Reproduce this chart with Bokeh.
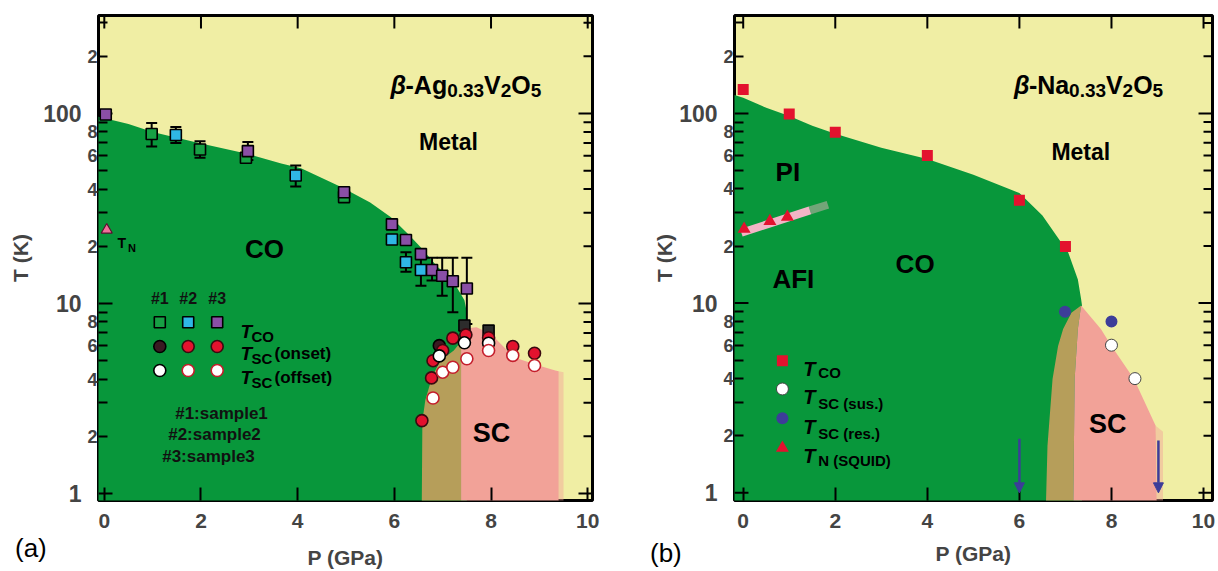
import math
from bokeh.plotting import figure
from bokeh.layouts import row, column
from bokeh.models import FixedTicker, LinearAxis, Arrow, NormalHead, Range1d, Div
from bokeh.core.properties import value
from bokeh.embed import file_html
from bokeh.resources import INLINE

FONT = "Liberation Sans"
YELLOW = "#F0EEA4"; GREEN = "#08973B"; OLIVE = "#B69E5A"; PINK = "#F2A298"
BAND = "#F3B5C6"; RED = "#E3122E"; DARK = "#3A1A22"; BLUE = "#3D3D99"
CYAN = "#2FB7E6"; PURPLE = "#8A4FA6"; SQGREEN = "#17A044"; REDLINE = "#C41E2C"

# ---------------- axis ticks ----------------
x_ticks = [0, 2, 4, 6, 8, 10]
y_big_ticks = [1, 10, 100]
y_big_labels = ["1", "10", "100"]
y_small_ticks = [2, 4, 6, 8, 20, 40, 60, 80, 200]
y_small_labels = ["2", "4", "6", "8", "2", "4", "6", "8", "2"]
y_minor_ticks = [3, 5, 7, 9, 30, 50, 70, 90, 300]

# ---------------- panel (a): beta-Ag0.33V2O5 ----------------
a_tco1_P = [0.98, 1.98, 2.93, 4.96]
a_tco1_T = [78.0, 64.6, 58.5, 36.3]
a_tco2_P = [1.48, 3.96, 5.95, 6.24, 6.55]
a_tco2_T = [77.0, 47.2, 21.7, 16.5, 15.0]
a_tco3_P = [0.03, 2.97, 4.96, 5.95, 6.24, 6.55, 6.78, 6.99, 7.21, 7.50]
a_tco3_T = [98.8, 63.4, 38.5, 26.1, 21.6, 18.2, 15.0, 14.0, 13.1, 12.0]
a_tcodark_P = [7.45, 7.95]
a_tcodark_T = [7.66, 7.2]
a_err_P = [0.98, 1.48, 1.98, 2.97, 3.96, 6.24, 6.55, 6.78, 6.99, 7.21, 7.50]
a_err_lo = [67.0, 70.0, 58.5, 57.0, 41.3, 14.7, 12.4, 13.2, 11.0, 9.0, 7.8]
a_err_hi = [89.0, 85.0, 71.5, 70.7, 53.3, 18.6, 17.2, 17.4, 17.4, 17.4, 17.4]
a_on1_P = [6.93]
a_on1_T = [6.0]
a_on23_P = [6.57, 6.77, 6.80, 7.00, 7.21, 7.48, 7.95, 8.45, 8.90]
a_on23_T = [2.42, 4.06, 5.0, 5.66, 6.57, 6.84, 6.6, 5.94, 5.47]
a_off1_P = [6.93, 7.45, 7.95]
a_off1_T = [5.3, 6.21, 6.18]
a_off23_P = [6.80, 7.00, 7.21, 7.50, 7.95, 8.45, 8.90]
a_off23_T = [3.18, 4.35, 4.62, 5.12, 5.66, 5.33, 4.72]
a_TN_P = [0.05]
a_TN_T = [24.4]
# phase boundaries (a)
a_co_P = [-1.0, -0.12, 0.5, 1.0, 2.0, 3.0, 3.66, 4.07, 4.9, 5.5, 5.93, 6.3, 6.55, 6.9, 7.17, 7.35, 7.45, 7.5, 7.5]
a_co_T = [96.0, 96.0, 88.0, 80.0, 69.5, 61.0, 54.5, 51.5, 41.0, 34.0, 28.4, 23.0, 19.7, 15.5, 13.7, 11.5, 10.4, 9.0, 7.2]
a_coex_P = [6.56, 6.58, 6.64, 6.78, 6.95, 7.23, 7.40, 7.51, 7.38]
a_coex_T = [0.5, 2.4, 3.1, 4.1, 5.0, 5.66, 6.4, 7.4, 6.3]
a_sc_P = [7.38, 7.51, 7.70, 8.00, 8.47, 9.00, 9.33, 9.40]
a_sc_T = [6.3, 7.4, 7.5, 6.9, 5.22, 4.7, 4.44, 4.4]

# ---------------- panel (b): beta-Na0.33V2O5 ----------------
b_tco_P = [0.0, 1.0, 2.0, 4.0, 6.0, 7.0]
b_tco_T = [133.6, 99.2, 79.5, 59.9, 34.8, 19.9]
b_tn_P = [0.02, 0.58, 0.96]
b_tn_T = [24.6, 27.0, 28.4]
b_sus_P = [8.0, 8.51]
b_sus_T = [6.0, 4.0]
b_res_P = [6.99, 8.0]
b_res_T = [9.0, 8.0]
b_arrow_P = [6.0, 9.02]
b_arrow_T0 = [1.93, 1.89]
b_band_P = [-0.04, 1.45, 1.84]
b_band_T = [23.5, 30.8, 33.0]
b_co_P = [-1.0, -0.19, 0.0, 0.5, 1.0, 1.5, 2.0, 3.0, 4.0, 5.0, 6.0, 6.5, 7.06, 7.27, 7.34, 7.36]
b_co_T = [125.0, 125.0, 121.0, 107.0, 97.0, 86.0, 78.0, 66.0, 57.5, 47.5, 38.0, 29.0, 18.5, 13.3, 10.5, 9.7]
b_coex_P = [6.55, 6.61, 6.72, 6.84, 6.95, 7.13, 7.34, 7.27, 7.20, 7.16]
b_coex_T = [0.5, 1.77, 3.98, 5.95, 7.3, 8.9, 9.7, 7.3, 3.98, 0.5]
b_sc_P = [7.16, 7.20, 7.27, 7.34, 7.77, 8.0, 8.49, 8.96, 9.0]
b_sc_T = [0.5, 3.98, 7.3, 9.7, 7.3, 5.95, 3.98, 2.26, 0.5]

BOTTOM = 0.5
HEIGHT = 571

GEOM_A = dict(px0=98.0, P0=-0.12, sx=48.34, py1=493.0, sy=190.0, fl=98, fr=592, ft=15, fb=500)
GEOM_B = dict(px0=733.0, P0=-0.189, sx=46.13, py1=494.3, sy=190.5, fl=733, fr=1212, ft=15, fb=502)

# approx. Liberation Sans Bold advance widths (em)
W = {'β': 0.6, '-': 0.333, 'A': 0.722, 'g': 0.611, 'N': 0.722, 'a': 0.556, '0': 0.556,
     '.': 0.278, '3': 0.556, 'V': 0.667, '2': 0.556, 'O': 0.778, '5': 0.556}


def mapper(g):
    def m(px, py):
        return g["P0"] + (px - g["px0"]) / g["sx"], 10 ** ((g["py1"] - py) / g["sy"])
    return m


def tick_style(ax, tin, mtin):
    ax.axis_line_color = None
    ax.major_tick_in = tin; ax.major_tick_out = 0
    ax.minor_tick_in = mtin; ax.minor_tick_out = 0
    ax.major_tick_line_width = 2; ax.minor_tick_line_width = 2
    ax.major_tick_line_color = "black"; ax.minor_tick_line_color = "black"


def frame_ticks(p, g):
    """inward ticks drawn on the left (decades), top and right edges of the frame"""
    xs, xe = p.x_range.start, p.x_range.end
    ys, ye = p.y_range.start, p.y_range.end
    kw = dict(line_width=2, line_color="black")
    n = len(y_big_ticks)
    # long decade ticks, left and right
    p.segment(x0=[xs] * n, y0=y_big_ticks, x1=[xs + 14.0 / g["sx"]] * n, y1=y_big_ticks, **kw)
    p.segment(x0=[xe] * n, y0=y_big_ticks, x1=[xe - 14.0 / g["sx"]] * n, y1=y_big_ticks, **kw)
    # short ticks on the right
    mins = y_small_ticks + y_minor_ticks
    p.segment(x0=[xe] * len(mins), y0=mins, x1=[xe - 9.0 / g["sx"]] * len(mins), y1=mins, **kw)
    # top ticks
    f = 10 ** (13.0 / g["sy"])
    p.segment(x0=x_ticks, y0=[ye] * len(x_ticks), x1=x_ticks, y1=[ye / f] * len(x_ticks), **kw)


def panel(width, g, min_left, min_right, xlab_standoff, ylab_standoff):
    m = mapper(g)
    x0, y0 = m(g["fl"], g["fb"])
    x1, y1 = m(g["fr"], g["ft"])
    p = figure(width=width, height=HEIGHT, x_range=Range1d(x0, x1), y_range=Range1d(y0, y1),
               y_axis_type="log", x_axis_location=None, y_axis_location=None,
               toolbar_location=None, output_backend="svg",
               min_border_left=min_left, min_border_right=min_right,
               min_border_top=g["ft"], min_border_bottom=HEIGHT - g["fb"])
    p.background_fill_color = YELLOW
    p.border_fill_color = None
    p.outline_line_color = "black"
    p.outline_line_width = 3
    p.grid.visible = False

    axb = LinearAxis(ticker=FixedTicker(ticks=x_ticks, minor_ticks=[]))
    tick_style(axb, 13, 0)
    axb.major_label_text_font = FONT
    axb.major_label_text_font_size = "21px"
    axb.major_label_text_font_style = "bold"
    axb.major_label_standoff = 13
    axb.axis_label = "P (GPa)"
    axb.axis_label_text_font = FONT
    axb.axis_label_text_font_size = "21px"
    axb.axis_label_text_font_style = "bold"
    axb.axis_label_standoff = xlab_standoff
    p.add_layout(axb, "below")

    axl = LinearAxis(ticker=FixedTicker(ticks=y_small_ticks, minor_ticks=y_minor_ticks),
                     major_label_overrides=dict(zip(y_small_ticks, y_small_labels)))
    tick_style(axl, 9, 9)
    axl.major_label_text_font = FONT
    axl.major_label_text_font_size = "18px"
    axl.major_label_text_font_style = "bold"
    axl.major_label_standoff = 1
    p.add_layout(axl, "left")

    axl2 = LinearAxis(ticker=FixedTicker(ticks=y_big_ticks, minor_ticks=[]),
                      major_label_overrides=dict(zip(y_big_ticks, y_big_labels)))
    axl2.axis_line_color = None
    axl2.major_tick_line_color = None
    axl2.minor_tick_line_color = None
    axl2.major_label_text_font = FONT
    axl2.major_label_text_font_size = "23px"
    axl2.major_label_text_font_style = "bold"
    axl2.major_label_standoff = -3
    axl2.axis_label = "T (K)"
    axl2.axis_label_text_font = FONT
    axl2.axis_label_text_font_size = "21px"
    axl2.axis_label_text_font_style = "bold"
    axl2.axis_label_standoff = ylab_standoff
    p.add_layout(axl2, "left")
    return p, m


def txt(p, m, px, py, s, size, style="bold", align="left", baseline="alphabetic", color="black"):
    x, y = m(px, py)
    p.text(x=[x], y=[y], text=[s], text_font=value(FONT), text_font_size=f"{size}px",
           text_font_style=style, text_align=align, text_baseline=baseline, text_color=color)


def seq(p, m, px, pieces):
    for s, size, style, base in pieces:
        txt(p, m, px, base, s, size, style=style)
        px += sum(W.get(c, 0.55) for c in s) * size


# ======================= panel (a) =======================
pa, ma = panel(650, GEOM_A, 98, 58, 15, 8)
pa.patch(x=a_co_P + [7.5, -1.0], y=a_co_T + [BOTTOM, BOTTOM], fill_color=GREEN, line_color=None)
pa.patch(x=a_coex_P + [7.38], y=a_coex_T + [BOTTOM], fill_color=OLIVE, line_color=None)
pa.patch(x=a_sc_P + [9.40, 7.38], y=a_sc_T + [BOTTOM, BOTTOM], fill_color=PINK, line_color=None)
pa.patch(x=[9.40, 9.50, 9.50, 9.40], y=[4.4, 4.35, BOTTOM, BOTTOM], fill_color=PINK,
         fill_alpha=0.45, line_color=None)
frame_ticks(pa, GEOM_A)

# error bars
pa.segment(x0=a_err_P, y0=a_err_lo, x1=a_err_P, y1=a_err_hi, line_width=2, line_color="black")
pa.scatter(x=a_err_P + a_err_P, y=a_err_lo + a_err_hi, marker="dash", size=11,
           line_width=2, line_color="black")
sq = dict(marker="square", size=11, line_color="black", line_width=1.6)
pa.scatter(x=a_tco1_P, y=a_tco1_T, fill_color=SQGREEN, **sq)
pa.scatter(x=a_tco2_P, y=a_tco2_T, fill_color=CYAN, **sq)
pa.scatter(x=a_tco3_P, y=a_tco3_T, fill_color=PURPLE, **sq)
pa.scatter(x=a_tcodark_P, y=a_tcodark_T, fill_color="#2C2C2C", **sq)
ci = dict(marker="circle", size=12, line_width=1.6)
pa.scatter(x=a_on1_P, y=a_on1_T, fill_color=DARK, line_color="black", **ci)
pa.scatter(x=a_on23_P, y=a_on23_T, fill_color=RED, line_color="#3A0A10", **ci)
pa.scatter(x=a_off1_P, y=a_off1_T, fill_color="white", line_color="black", **ci)
pa.scatter(x=a_off23_P, y=a_off23_T, fill_color="white", line_color=REDLINE, **ci)
pa.scatter(x=a_TN_P, y=a_TN_T, marker="triangle", size=11, fill_color="#F0709A",
           line_color="#5A1030", line_width=1.2)

# legend (a)
lx = [159.3, 187.7, 216.7]
for px, fc in zip(lx, [SQGREEN, CYAN, PURPLE]):
    x, y = ma(px, 321.7)
    pa.scatter(x=[x], y=[y], fill_color=fc, **sq)
for px, fc, lc in zip(lx, [DARK, RED, RED], ["black", "#3A0A10", "#3A0A10"]):
    x, y = ma(px, 346)
    pa.scatter(x=[x], y=[y], fill_color=fc, line_color=lc, **ci)
for px, lc in zip(lx, ["black", REDLINE, REDLINE]):
    x, y = ma(px, 370)
    pa.scatter(x=[x], y=[y], fill_color="white", line_color=lc, **ci)
for px, s in zip(lx, ["#1", "#2", "#3"]):
    txt(pa, ma, px, 298, s, 16, align="center", baseline="middle", color="#111111")
for base, sub, extra in [(331, "CO", None), (353, "SC", "(onset)"), (377, "SC", "(offset)")]:
    txt(pa, ma, 240, base, "T", 19, style="bold italic")
    txt(pa, ma, 251, base + 4.5, sub, 15)
    if extra:
        txt(pa, ma, 274, base, extra, 17)
for cx, cy, s in [(221, 413, "#1:sample1"), (214, 434, "#2:sample2"), (208, 455.5, "#3:sample3")]:
    txt(pa, ma, cx, cy, s, 17, align="center", baseline="middle", color="#111111")

txt(pa, ma, 117, 242, "T", 14)
txt(pa, ma, 127.5, 247, "N", 11)
txt(pa, ma, 264, 248, "CO", 26, align="center", baseline="middle")
txt(pa, ma, 448, 141, "Metal", 23, align="center", baseline="middle")
txt(pa, ma, 491, 432, "SC", 27, align="center", baseline="middle")
seq(pa, ma, 390, [("β", 25, "bold italic", 84), ("-Ag", 25, "bold", 84), ("0.33", 19, "bold", 90),
                  ("V", 25, "bold", 84), ("2", 19, "bold", 90), ("O", 25, "bold", 84),
                  ("5", 19, "bold", 90)])

# ======================= panel (b) =======================
pb, mb = panel(568, GEOM_B, 83, 6, 11, 0)
pb.patch(x=b_co_P + [7.36, -1.0], y=b_co_T + [BOTTOM, BOTTOM], fill_color=GREEN, line_color=None)
pb.patch(x=b_coex_P, y=b_coex_T, fill_color=OLIVE, line_color=None)
pb.patch(x=b_sc_P, y=b_sc_T, fill_color=PINK, line_color=None)
pb.patch(x=[8.96, 9.12, 9.12, 9.0], y=[2.26, 2.1, BOTTOM, BOTTOM], fill_color=PINK,
         fill_alpha=0.45, line_color=None)
frame_ticks(pb, GEOM_B)

pb.line(x=b_band_P[:2], y=b_band_T[:2], line_width=8, line_color=BAND, line_cap="butt")
pb.line(x=b_band_P[1:], y=b_band_T[1:], line_width=8, line_color=BAND, line_alpha=0.45, line_cap="butt")
pb.scatter(x=b_tco_P, y=b_tco_T, marker="square", size=11, fill_color=RED, line_color=None)
pb.scatter(x=b_tn_P, y=b_tn_T, marker="triangle", size=13, fill_color=RED, line_color=None)
pb.scatter(x=b_res_P, y=b_res_T, marker="circle", size=12, fill_color=BLUE, line_color=None)
pb.scatter(x=b_sus_P, y=b_sus_T, marker="circle", size=12, fill_color="white",
           line_color="#444444", line_width=1)
for P, T0 in zip(b_arrow_P, b_arrow_T0):
    pb.add_layout(Arrow(end=NormalHead(size=10, fill_color=BLUE, line_color=BLUE),
                        x_start=P, y_start=T0, x_end=P, y_end=1.0,
                        line_color=BLUE, line_width=2.5))

# legend (b)
for py, kw in [(361.7, dict(marker="square", size=11, fill_color=RED, line_color=None)),
               (390, dict(marker="circle", size=12, fill_color="white", line_color="#444444")),
               (419.3, dict(marker="circle", size=12, fill_color=BLUE, line_color=None)),
               (449.3, dict(marker="triangle", size=13, fill_color=RED, line_color=None))]:
    x, y = mb(781, py)
    pb.scatter(x=[x], y=[y], **kw)
for base, sb, sub in [(370, 373.5, "CO"), (398, 405, "SC (sus.)"), (428, 435, "SC (res.)"),
                      (457, 462, "N (SQUID)")]:
    txt(pb, mb, 802, base, "T", 20, style="bold italic")
    txt(pb, mb, 817, sb, sub, 15)

txt(pb, mb, 786.5, 172, "PI", 26, align="center", baseline="middle")
txt(pb, mb, 792, 280, "AFI", 26, align="center", baseline="middle")
txt(pb, mb, 914, 265, "CO", 26, align="center", baseline="middle")
txt(pb, mb, 1080, 152, "Metal", 23, align="center", baseline="middle")
txt(pb, mb, 1107, 425, "SC", 27, align="center", baseline="middle")
seq(pb, mb, 1013, [("β", 25, "bold italic", 85), ("-Na", 25, "bold", 85), ("0.33", 19, "bold", 90),
                   ("V", 25, "bold", 85), ("2", 19, "bold", 90), ("O", 25, "bold", 85),
                   ("5", 19, "bold", 90)])

# panel tags "(a)" / "(b)" placed as text blocks overlapping the bottom-left corners
tag_style = {"font-family": FONT, "font-size": "26px", "line-height": "30px", "color": "black"}
div_a = Div(text="(a)", width=40, height=30, margin=(0, 0, 0, 15), styles=tag_style)
div_b = Div(text="(b)", width=40, height=30, margin=(5, 0, 0, 595), styles=tag_style)
tags = row(div_a, div_b, margin=(-38, 0, 0, 0))

layout = column(row(pa, pb), tags)
open("out.html", "w").write(file_html(layout, INLINE))
